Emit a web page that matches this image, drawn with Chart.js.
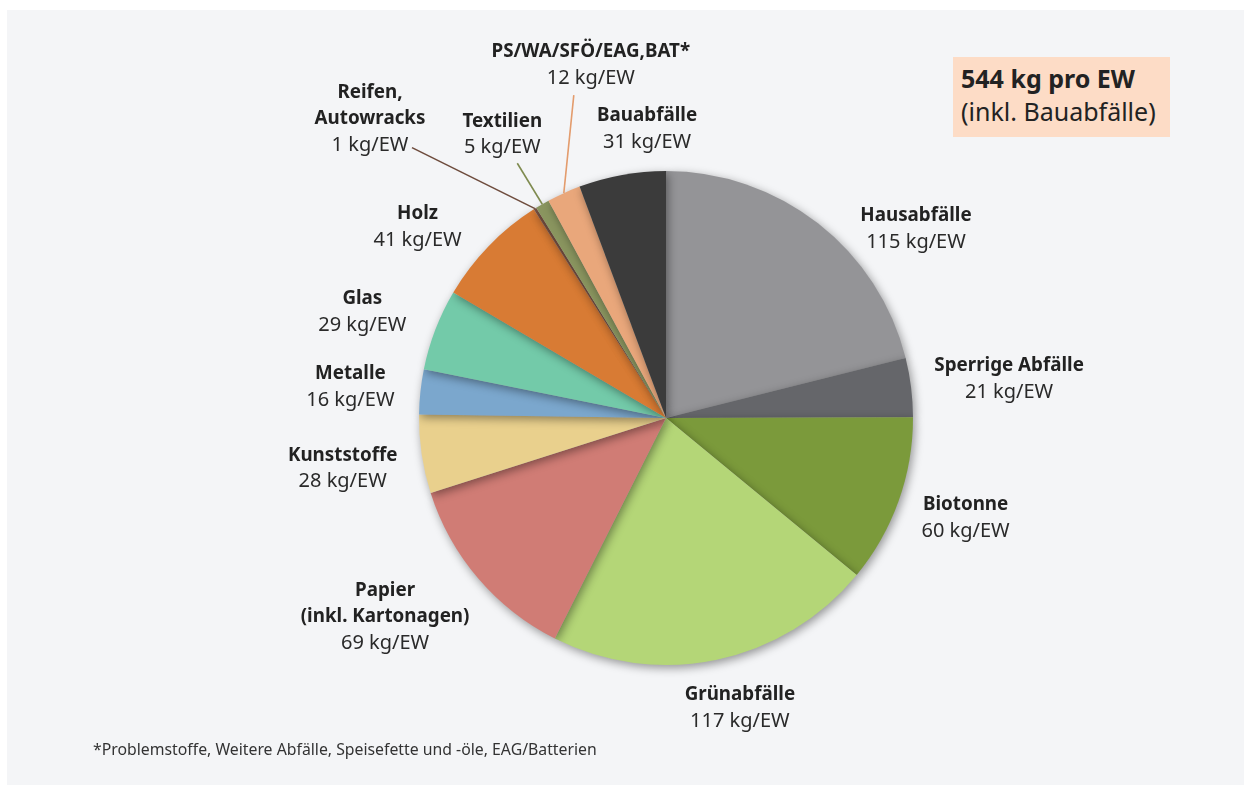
<!DOCTYPE html>
<html>
<head>
<meta charset="utf-8">
<script src="https://cdn.jsdelivr.net/npm/chart.js@4/dist/chart.umd.min.js"></script>
<style>
    html, body { margin: 0; padding: 0; background: #ffffff; }
    #panel { position: absolute; left: 7px; top: 10px; width: 1237px; height: 775px; background: #f4f5f7; }
    #wrap { position: absolute; left: 0; top: 0; width: 1244px; height: 785px; }
    #total-box { position: absolute; left: 953px; top: 57px; width: 217px; height: 80px; background: #fddcc6;
        font-family: "Noto Sans", sans-serif; font-size: 25px; color: #222; box-sizing: border-box; padding: 5px 0 0 8px; line-height: 33px; }
    #total-box b { font-weight: 700; }
    #footnote { position: absolute; left: 93px; top: 738px; font-family: "Noto Sans", sans-serif; font-size: 15.8px; color: #333; }
</style>
</head>
<body>
<div id="panel"></div>
<div id="wrap"><canvas id="chart" width="1244" height="785"></canvas></div>
<div id="total-box"><b>544 kg pro EW</b><br>(inkl. Bauabfälle)</div>
<div id="footnote">*Problemstoffe, Weitere Abfälle, Speisefette und -öle, EAG/Batterien</div>
<script>
const categories = ["Hausabfälle", "Sperrige Abfälle", "Biotonne", "Grünabfälle", "Papier\n(inkl. Kartonagen)", "Kunststoffe",
    "Metalle", "Glas", "Holz", "Reifen,\nAutowracks", "Textilien", "PS/WA/SFÖ/EAG,BAT*", "Bauabfälle"];
const values = [115, 21, 60, 117, 69, 28, 16, 29, 41, 1, 5, 12, 31];
const unit = "kg/EW";
const colors = ["#949497", "#65666a", "#7b9a3b", "#b4d677", "#d07c75", "#e9d08d", "#7ba7cd", "#73caa9", "#d87b34",
    "#7a5142", "#8a955f", "#e9a77b", "#3b3b3b"];

// label placement relative to the outer mid point of each slice
const labelOffsets = [[98, -8], [98, -22], [67, 4], [23, 35], [-93, 12], [-79, 1], [-70, -18], [-73, -31], [-71, -32],
    [-165, -116], [-40, -83], [27, -141], [25, -59]];
const leaderEnds = { 9: [-123, -61], 10: [-25, -41], 11: [10, -98] };
const leaderColors = { 9: "#6e4c3d", 10: "#7f8b50", 11: "#e39c6d" };

const shadowPlugin = {
    id: "shadow",
    beforeDatasetsDraw(chart) {
        const ctx = chart.ctx;
        ctx.save();
        ctx.shadowColor = "rgba(0,0,0,0.4)";
        ctx.shadowBlur = 10;
        ctx.shadowOffsetX = 2;
        ctx.shadowOffsetY = 3;
    },
    afterDatasetsDraw(chart) {
        chart.ctx.restore();
    }
};

const labelPlugin = {
    id: "sliceLabels",
    afterDraw(chart) {
        const ctx = chart.ctx;
        const arcs = chart.getDatasetMeta(0).data;
        ctx.save();
        ctx.textAlign = "center";
        ctx.textBaseline = "middle";
        arcs.forEach((arc, i) => {
            const mid = (arc.startAngle + arc.endAngle) / 2;
            const ax = arc.x + Math.cos(mid) * arc.outerRadius;
            const ay = arc.y + Math.sin(mid) * arc.outerRadius;
            if (leaderEnds[i]) {
                ctx.strokeStyle = leaderColors[i];
                ctx.lineWidth = 1.6;
                ctx.beginPath();
                ctx.moveTo(ax, ay);
                ctx.lineTo(ax + leaderEnds[i][0], ay + leaderEnds[i][1]);
                ctx.stroke();
            }
            const [dx, dy] = labelOffsets[i];
            const x = ax + dx;
            let y = ay + dy;
            ctx.fillStyle = "#222";
            ctx.font = "700 18.8px 'Noto Sans', sans-serif";
            categories[i].split("\n").forEach(line => {
                ctx.fillText(line, x, y);
                y += 26.5;
            });
            ctx.font = "400 20px 'Noto Sans', sans-serif";
            ctx.fillStyle = "#2a2a2a";
            ctx.fillText(`${values[i]} ${unit}`, x, y);
        });
        ctx.restore();
    }
};

new Chart(document.getElementById("chart"), {
    type: "pie",
    data: {
        labels: categories,
        datasets: [{ data: values, backgroundColor: colors, borderWidth: 0, hoverOffset: 0 }]
    },
    options: {
        responsive: false,
        animation: false,
        layout: { padding: { left: 419, right: 331, top: 171, bottom: 120 } },
        plugins: { legend: { display: false }, tooltip: { enabled: false } }
    },
    plugins: [shadowPlugin, labelPlugin]
});
</script>
</body>
</html>
